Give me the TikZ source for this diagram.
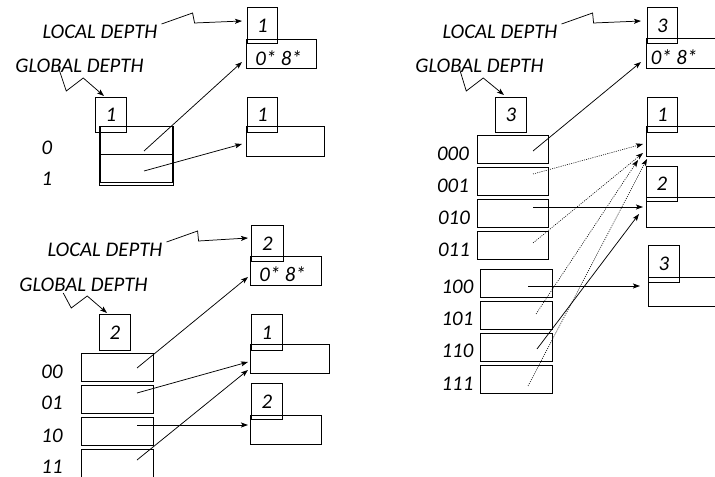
\documentclass[tikz,border=0pt]{standalone}
\usepackage{fontspec}
\setmainfont{Carlito}
\usetikzlibrary{arrows.meta,calc}
\begin{document}
\begin{tikzpicture}[x=1bp,y=-1bp,
  txt/.style={font=\fontsize{20.8bp}{24bp}\selectfont\itshape, inner sep=0pt},
  box/.style={draw, line width=0.95pt, inner sep=0pt, anchor=north west, txt},
  conn/.style={line width=0.75pt, -{Stealth[length=7bp,width=5bp,inset=1.5bp]}},
  dotconn/.style={conn, line width=0.6pt, dash pattern=on 1bp off 1.2bp},
  zig/.style={line width=0.75pt, -{Stealth[length=7bp,width=5bp,inset=1.5bp]}},
]
\useasboundingbox (0,0) rectangle (715,477);

% ---------------- Panel A ----------------
\node[txt] (ldA) at (100,32) {LOCAL DEPTH};
\node[txt] (gdA) at (79.5,66) {GLOBAL DEPTH};
\node[box, minimum width=70bp, minimum height=29bp] (bA1) at (246,39) {};
\node[txt] (tA1) at (278.5,58) {0* 8*};
\node[box, minimum width=30bp, minimum height=36bp] (ldbA1) at (247,7) {1};
\node[box, minimum width=78bp, minimum height=30bp] (bA2) at (246,126) {};
\node[box, minimum width=30bp, minimum height=35bp] (ldbA2) at (247,97) {1};
\node[box, minimum width=31bp, minimum height=35bp] (gdbA) at (95,97) {1};
\node[box, minimum width=74bp, minimum height=59bp] (dirA) at (98.5,126) {};
\node[box, minimum width=71.5bp, minimum height=28bp] (dA0) at (100,126) {};
\node[box, minimum width=71.5bp, minimum height=28.5bp] (dA1) at (100,154) {};
\node[txt] (lA0) at (47,147.5) {0};
\node[txt] (lA1) at (47,179) {1};

\draw[zig] ($(ldA.east)+(4,-8)$) -- ++(31,-11) -- ++(2,10) -- ($(ldbA1.north west)+(-5,14)$);
\draw[zig] ($(gdA.west)+(43,1)$) -- ++(8,24) -- ++(17,-13) -- ($(gdbA.north west)+(9,-1)$);
\draw[conn] ($(dA0.north west)+(44,25)$) -- ($(bA1.north west)+(-4,23)$);
\draw[conn] ($(dA1.north west)+(44,17)$) -- ($(bA2.north west)+(-4,18)$);

% ---------------- Panel B ----------------
\node[txt] (ldB) at (105,250) {LOCAL DEPTH};
\node[txt] (gdB) at (83.5,285) {GLOBAL DEPTH};
\node[box, minimum width=71bp, minimum height=29bp] (bB1) at (250,256) {};
\node[txt] (tB1) at (282.5,274.5) {0* 8*};
\node[box, minimum width=32bp, minimum height=36bp] (ldbB1) at (251,225) {2};
\node[box, minimum width=79bp, minimum height=29bp] (bB2) at (250,344) {};
\node[box, minimum width=31bp, minimum height=36bp] (ldbB2) at (251,314) {1};
\node[box, minimum width=71bp, minimum height=29bp] (bB3) at (250,415) {};
\node[box, minimum width=31bp, minimum height=36bp] (ldbB3) at (251,383) {2};
\node[box, minimum width=31bp, minimum height=36bp] (gdbB) at (99,314) {2};
\node[box, minimum width=72bp, minimum height=28bp] (dB00) at (81,353) {};
\node[box, minimum width=72bp, minimum height=28bp] (dB01) at (81,385) {};
\node[box, minimum width=72bp, minimum height=28bp] (dB10) at (81,417) {};
\node[box, minimum width=72bp, minimum height=27.5bp] (dB11) at (81,449) {};
\node[txt] (lB00) at (52,372) {00};
\node[txt] (lB01) at (52,403) {01};
\node[txt] (lB10) at (52,436) {10};
\node[txt] (lB11) at (52,466.5) {11};

\draw[zig] ($(ldB.east)+(4,-8)$) -- ++(31,-11) -- ++(1,10) -- ($(ldbB1.north west)+(-3,13)$);
\draw[zig] ($(gdB.west)+(44,8)$) -- ++(8,15) -- ++(16,-12) -- ($(gdbB.north west)+(8,-1)$);
\draw[conn] ($(dB00.north west)+(56,15)$) -- ($(bB1.north west)+(-2,21)$);
\draw[conn] ($(dB01.north west)+(56,8)$) -- ($(bB2.north west)+(-2,18)$);
\draw[conn] ($(dB11.north west)+(56,11)$) -- ($(bB2.north west)+(-2,26)$);
\draw[conn] ($(dB10.north west)+(56,8)$) -- ($(bB3.north west)+(-2,10)$);

% ---------------- Panel C ----------------
\node[txt] (ldC) at (500,32) {LOCAL DEPTH};
\node[txt] (gdC) at (479.5,66) {GLOBAL DEPTH};
\node[box, minimum width=90bp, minimum height=30bp] (bC1) at (646,38) {};
\node[txt] (tC1) at (674,57) {0* 8*};
\node[box, minimum width=30bp, minimum height=36bp] (ldbC1) at (647,7) {3};
\node[box, minimum width=90bp, minimum height=30bp] (bC2) at (646,126) {};
\node[box, minimum width=30bp, minimum height=35bp] (ldbC2) at (647,97) {1};
\node[box, minimum width=90bp, minimum height=30bp] (bC3) at (646,197) {};
\node[box, minimum width=31bp, minimum height=35bp] (ldbC3) at (646,166) {2};
\node[box, minimum width=90bp, minimum height=29bp] (bC4) at (648,277) {};
\node[box, minimum width=31bp, minimum height=37bp] (ldbC4) at (648,245) {3};
\node[box, minimum width=31bp, minimum height=35bp] (gdbC) at (495,97) {3};
\node[box, minimum width=71bp, minimum height=28bp] (dC000) at (477,135) {};
\node[box, minimum width=71bp, minimum height=28bp] (dC001) at (477,167) {};
\node[box, minimum width=71bp, minimum height=28bp] (dC010) at (477,199) {};
\node[box, minimum width=71bp, minimum height=28bp] (dC011) at (477,231) {};
\node[box, minimum width=72bp, minimum height=28bp] (dC100) at (480,269) {};
\node[box, minimum width=72bp, minimum height=28bp] (dC101) at (480,301) {};
\node[box, minimum width=72bp, minimum height=28bp] (dC110) at (480,333) {};
\node[box, minimum width=72bp, minimum height=28bp] (dC111) at (480,365) {};
\node[txt] (lC000) at (453,153.5) {000};
\node[txt] (lC001) at (453,185.5) {001};
\node[txt] (lC010) at (454,217.5) {010};
\node[txt] (lC011) at (454,249.5) {011};
\node[txt] (lC100) at (457.5,287) {100};
\node[txt] (lC101) at (457.5,319) {101};
\node[txt] (lC110) at (457.5,351) {110};
\node[txt] (lC111) at (457.5,383.5) {111};

\draw[zig] ($(ldC.east)+(4,-8)$) -- ++(31,-11) -- ++(1,10) -- ($(ldbC1.north west)+(-6,14)$);
\draw[zig] ($(gdC.west)+(44,2)$) -- ++(7,23) -- ++(17,-13) -- ($(gdbC.north west)+(9,-2)$);
\draw[conn] ($(dC000.north west)+(56,16)$) -- ($(bC1.north west)+(-5,24)$);
\draw[dotconn] ($(dC001.north west)+(56,7)$) -- ($(bC2.north west)+(-3,18)$);
\draw[conn] ($(dC010.north west)+(56,8)$) -- ($(bC3.north west)+(-3,10)$);
\draw[dotconn] ($(dC011.north west)+(56,12)$) -- ($(bC2.north west)+(-3,27)$);
\draw[conn] ($(dC100.north west)+(48,17)$) -- ($(bC4.north west)+(-8,9)$);
\draw[dotconn] ($(dC101.north west)+(56,13)$) -- ($(bC2.north west)+(-8,34)$);
\draw[conn] ($(dC110.north west)+(57,16)$) -- ($(bC3.north west)+(-7,17)$);
\draw[dotconn] ($(dC111.north west)+(48,21)$) -- ($(bC2.north west)+(1,33)$);
\end{tikzpicture}
\end{document}
